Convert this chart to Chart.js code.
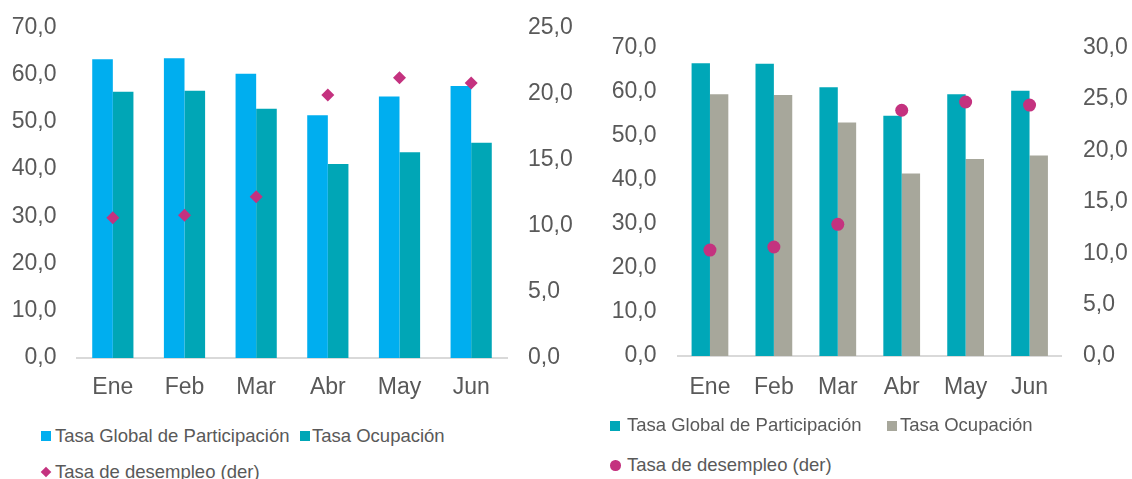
<!DOCTYPE html>
<html lang="es">
<head>
<meta charset="UTF-8">
<title>Mercado laboral</title>
<script src="https://cdn.jsdelivr.net/npm/chart.js@4"></script>
<style>
  html, body { margin: 0; padding: 0; background: #fff; overflow: hidden; }
  body { width: 1132px; height: 479px; position: relative; font-family: "Liberation Sans", Arial, sans-serif; color: #595959; }
  canvas { position: absolute; }
  .lg-mark { position: absolute; }
  .lg-text { position: absolute; font-size: 18.5px; line-height: 22px; white-space: nowrap; }
</style>
</head>
<body>
<!-- left canvas sits 8px higher: the right axis tick padding eats into the top -->
<canvas id="chartA" width="600" height="420" style="left:0px; top:-8px"></canvas>
<canvas id="chartB" width="566" height="420" style="left:566px; top:0px"></canvas>
<div id="legends"></div>

<script>
// data
const months = ['Ene', 'Feb', 'Mar', 'Abr', 'May', 'Jun'];
const seriesNames = ['Tasa Global de Participación', 'Tasa Ocupación', 'Tasa de desempleo (der)'];

const tgpA = [63.3, 63.5, 60.2, 51.4, 55.4, 57.6];
const ocupA = [56.4, 56.6, 52.8, 41.1, 43.6, 45.6];
const desempA = [10.6, 10.8, 12.2, 19.9, 21.2, 20.8];

const tgpB = [66.4, 66.3, 61.0, 54.5, 59.4, 60.2];
const ocupB = [59.4, 59.2, 53.0, 41.4, 44.7, 45.5];
const desempB = [10.3, 10.6, 12.8, 23.9, 24.7, 24.4];

const ticksTasas = [0, 10, 20, 30, 40, 50, 60, 70];
const ticksDerA = [0, 5, 10, 15, 20, 25];
const ticksDerB = [0, 5, 10, 15, 20, 25, 30];

const TEXT = '#595959';
const FONT = '"Liberation Sans", Arial, sans-serif';
const MAGENTA = '#C4327F';

const fmt = v => Number(v).toFixed(1).replace('.', ',');

function makeChart(id, opt) {
  const ctx = document.getElementById(id).getContext('2d');
  return new Chart(ctx, {
    data: {
      labels: months,
      datasets: [
        { type: 'line', label: seriesNames[2], data: opt.desemp, yAxisID: 'y1', order: 0,
          showLine: false, pointStyle: opt.pointStyle, pointRadius: opt.pointRadius,
          backgroundColor: MAGENTA, borderColor: MAGENTA, borderWidth: 0 },
        { type: 'bar', label: seriesNames[0], data: opt.tgp, yAxisID: 'y', order: 1,
          backgroundColor: opt.colors[0], categoryPercentage: 0.575, barPercentage: 1.0 },
        { type: 'bar', label: seriesNames[1], data: opt.ocup, yAxisID: 'y', order: 1,
          backgroundColor: opt.colors[1], categoryPercentage: 0.575, barPercentage: 1.0 }
      ]
    },
    options: {
      responsive: false,
      animation: false,
      layout: { autoPadding: false, padding: { top: opt.top, left: 0, right: 0, bottom: 0 } },
      plugins: { legend: { display: false }, tooltip: { enabled: false } },
      scales: {
        x: {
          grid: { display: false, drawTicks: false },
          border: { display: true, color: '#D9D9D9', width: 2 },
          ticks: { color: TEXT, font: { family: FONT, size: 23 }, padding: opt.padX },
          afterFit: s => { s.height = 420 - opt.bottom; }
        },
        y: {
          position: 'left', min: 0, max: 70,
          grid: { display: false, drawTicks: false },
          border: { display: false },
          afterBuildTicks: s => { s.ticks = ticksTasas.map(v => ({ value: v })); },
          ticks: { color: TEXT, font: { family: FONT, size: 23 }, padding: opt.padL, callback: fmt },
          afterFit: s => { s.width = opt.left; }
        },
        y1: {
          position: 'right', min: 0, max: opt.derTicks[opt.derTicks.length - 1],
          grid: { display: false, drawTicks: false },
          border: { display: false },
          afterBuildTicks: s => { s.ticks = opt.derTicks.map(v => ({ value: v })); },
          ticks: { color: TEXT, font: { family: FONT, size: 23 }, padding: opt.padR, callback: fmt },
          afterFit: s => { s.width = opt.width - opt.right; }
        }
      }
    }
  });
}

// top/bottom are in canvas pixels (canvas A is shifted up by 8)
const chartA = makeChart('chartA', {
  tgp: tgpA, ocup: ocupA, desemp: desempA, derTicks: ticksDerA, width: 600,
  colors: ['#00AEEF', '#00A6B6'], pointStyle: 'rectRot', pointRadius: 6.5,
  top: 35.5, bottom: 366, left: 77, right: 507, padL: 20.5, padR: 21, padX: 16
});

const chartB = makeChart('chartB', {
  tgp: tgpB, ocup: ocupB, desemp: desempB, derTicks: ticksDerB, width: 566,
  colors: ['#00A7B8', '#A7A79B'], pointStyle: 'circle', pointRadius: 6.5,
  top: 47.5, bottom: 356, left: 112, right: 495.5, padL: 21.5, padR: 21.5, padX: 17.5
});

// html legend, built from each chart's datasets
function addLegend(chart, items) {
  const host = document.getElementById('legends');
  items.forEach(it => {
    const ds = chart.data.datasets.find(d => d.label === it.label);
    const mark = document.createElement('div');
    mark.className = 'lg-mark';
    mark.style.left = it.mx + 'px';
    mark.style.top = it.my + 'px';
    mark.style.width = it.ms + 'px';
    mark.style.height = it.ms + 'px';
    mark.style.background = ds.backgroundColor;
    if (it.shape === 'circle') mark.style.borderRadius = '50%';
    if (it.shape === 'diamond') mark.style.transform = 'rotate(45deg) scale(0.75)';
    host.appendChild(mark);

    const txt = document.createElement('div');
    txt.className = 'lg-text';
    txt.style.left = it.tx + 'px';
    txt.style.top = (it.base - 17.4) + 'px';
    txt.textContent = ds.label;
    host.appendChild(txt);
  });
}

addLegend(chartA, [
  { label: seriesNames[0], mx: 41, my: 431, ms: 10, tx: 55, base: 442 },
  { label: seriesNames[1], mx: 300, my: 431, ms: 10, tx: 312, base: 442 },
  { label: seriesNames[2], mx: 41, my: 467, ms: 10, tx: 55, base: 478, shape: 'diamond' }
]);

addLegend(chartB, [
  { label: seriesNames[0], mx: 610, my: 421, ms: 9.5, tx: 627, base: 431 },
  { label: seriesNames[1], mx: 887, my: 421, ms: 9.5, tx: 900, base: 431 },
  { label: seriesNames[2], mx: 610, my: 460, ms: 10.5, tx: 627, base: 471.5, shape: 'circle' }
]);
</script>
</body>
</html>
